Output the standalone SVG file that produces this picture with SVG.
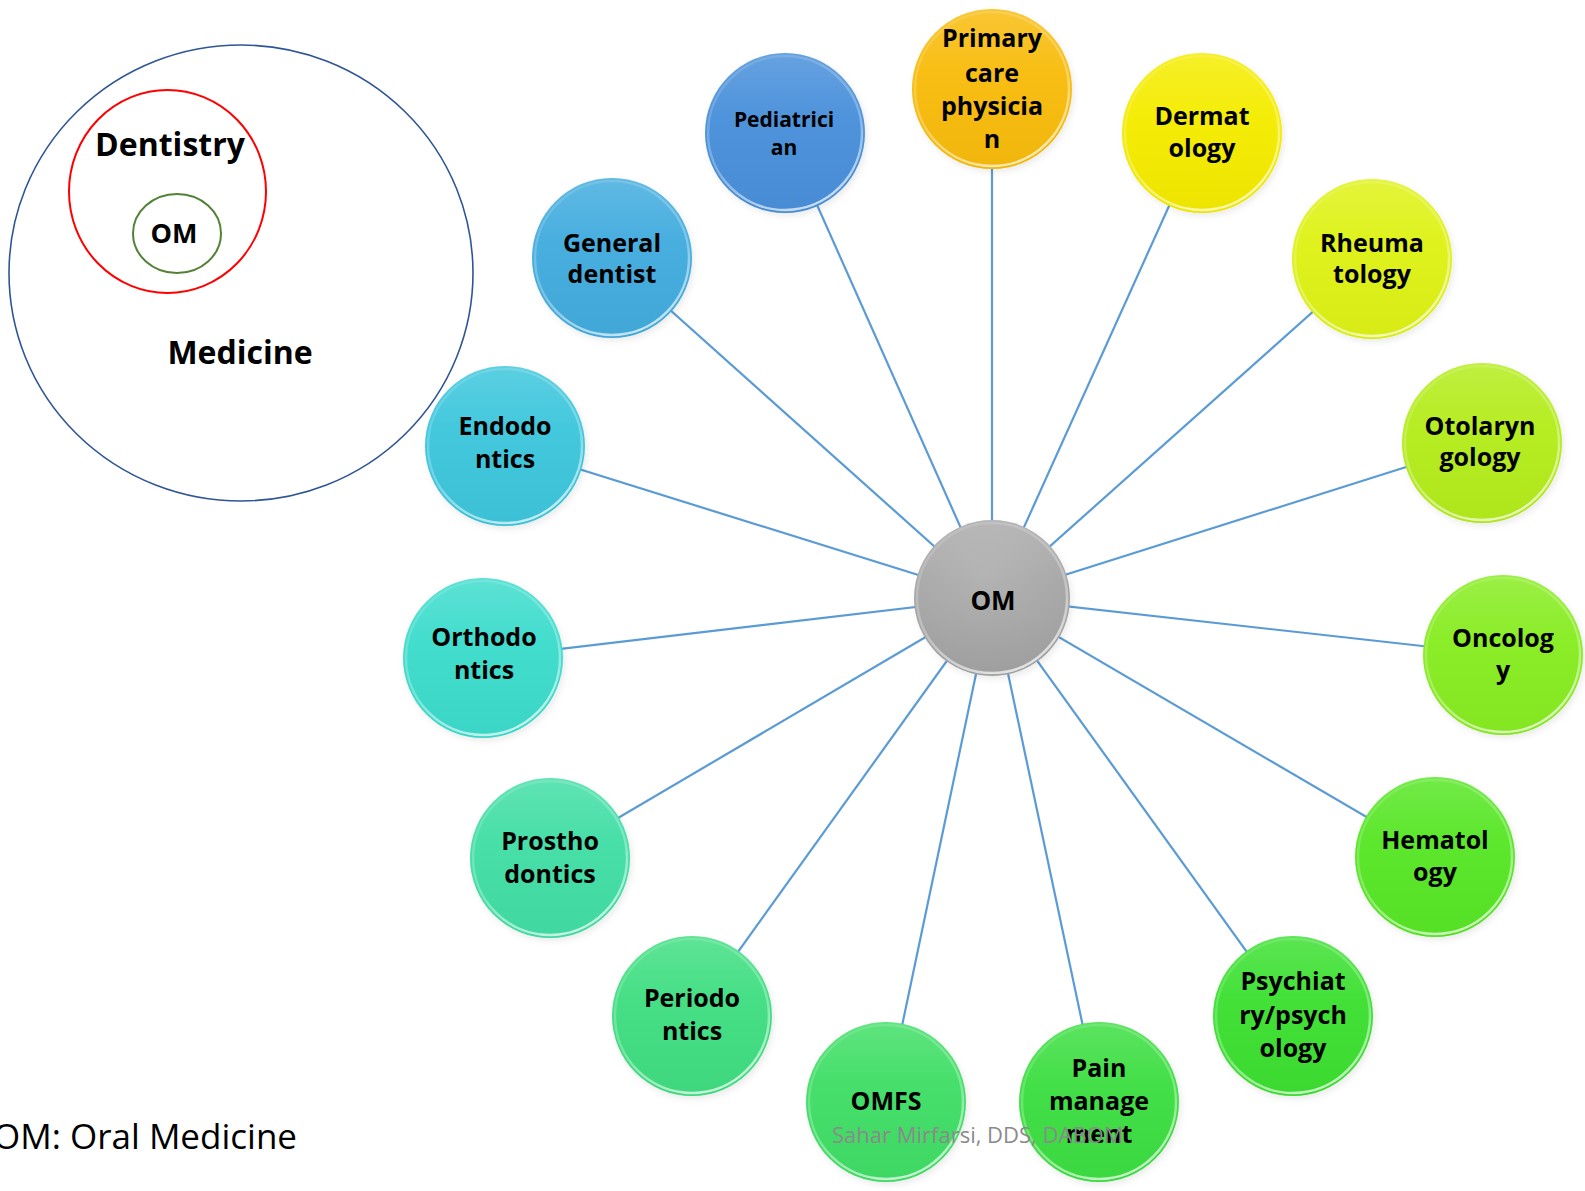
<svg xmlns="http://www.w3.org/2000/svg" width="1585" height="1191" viewBox="0 0 1585 1191">
<style>
.t{font-family:"Open Sans","Liberation Sans",sans-serif;font-weight:bold;font-size:25px;text-anchor:middle;fill:#000}
.ts{font-size:21px}
.big{font-family:"Open Sans","Liberation Sans",sans-serif;font-weight:bold;font-size:32px;fill:#000}
.conn line{stroke:#5b9bd5;stroke-width:2.2}
.gl{fill:url(#gloss)}
.rim{fill:none;stroke:url(#rimg);stroke-width:2.5}
.bub{filter:url(#sh)}
</style>
<defs>
<linearGradient id="gloss" x1="0" y1="0" x2="0" y2="1">
<stop offset="0" stop-color="#fff" stop-opacity="0.16"/>
<stop offset="0.4" stop-color="#fff" stop-opacity="0.03"/>
<stop offset="1" stop-color="#000" stop-opacity="0.03"/>
</linearGradient>
<linearGradient id="rimg" x1="0.2" y1="0" x2="0.6" y2="1">
<stop offset="0" stop-color="#fff" stop-opacity="0.1"/>
<stop offset="0.6" stop-color="#fff" stop-opacity="0.3"/>
<stop offset="1" stop-color="#fff" stop-opacity="0.7"/>
</linearGradient>
<radialGradient id="omg" cx="0.45" cy="0.35" r="0.7">
<stop offset="0" stop-color="#b0b0b0"/>
<stop offset="1" stop-color="#a2a2a2"/>
</radialGradient>
<filter id="sh" x="-20%" y="-20%" width="140%" height="140%">
<feGaussianBlur in="SourceAlpha" stdDeviation="3"/>
<feOffset dx="2" dy="3" result="b"/>
<feFlood flood-color="#000" flood-opacity="0.08"/>
<feComposite in2="b" operator="in"/>
<feMerge><feMergeNode/><feMergeNode in="SourceGraphic"/></feMerge>
</filter>
</defs>
<rect width="1585" height="1191" fill="#fff"/>

<g id="venn">
<ellipse cx="241" cy="273" rx="232" ry="228" fill="none" stroke="#2f5597" stroke-width="1.6"/>
<ellipse cx="167.5" cy="191.5" rx="98.5" ry="101.5" fill="none" stroke="#ff0000" stroke-width="2"/>
<ellipse cx="177" cy="233.5" rx="44" ry="39.5" fill="none" stroke="#548235" stroke-width="2"/>
<text class="big" x="170" y="156" text-anchor="middle">Dentistry</text>
<text class="big" x="174" y="243" text-anchor="middle" style="font-size:27px">OM</text>
<text class="big" x="240" y="364" text-anchor="middle">Medicine</text>
</g>

<g id="connectors" class="conn">
<line x1="992" y1="598" x2="992" y2="89"/>
<line x1="992" y1="598" x2="1202" y2="133"/>
<line x1="992" y1="598" x2="1372" y2="259"/>
<line x1="992" y1="598" x2="1482" y2="443"/>
<line x1="992" y1="598" x2="1503" y2="655"/>
<line x1="992" y1="598" x2="1435" y2="857"/>
<line x1="992" y1="598" x2="1293" y2="1016"/>
<line x1="992" y1="598" x2="1099" y2="1102"/>
<line x1="992" y1="598" x2="886" y2="1102"/>
<line x1="992" y1="598" x2="692" y2="1016"/>
<line x1="992" y1="598" x2="550" y2="858"/>
<line x1="992" y1="598" x2="483" y2="658"/>
<line x1="992" y1="598" x2="505" y2="446"/>
<line x1="992" y1="598" x2="612" y2="258"/>
<line x1="992" y1="598" x2="785" y2="133"/>
</g>

<g id="n-primary"><circle class="bub" cx="992" cy="89" r="80" fill="#f8bc08"/><circle class="gl" cx="992" cy="89" r="80"/><circle class="rim" cx="992" cy="89" r="77"/>
<text class="t" x="992" y="47">Primary</text><text class="t" x="992" y="82">care</text><text class="t" x="992" y="115">physicia</text><text class="t" x="992" y="148">n</text></g>

<g id="n-derm"><circle class="bub" cx="1202" cy="133" r="80" fill="#f4ec06"/><circle class="gl" cx="1202" cy="133" r="80"/><circle class="rim" cx="1202" cy="133" r="77"/>
<text class="t" x="1202" y="125">Dermat</text><text class="t" x="1202" y="157">ology</text></g>

<g id="n-rheum"><circle class="bub" cx="1372" cy="259" r="80" fill="#def212"/><circle class="gl" cx="1372" cy="259" r="80"/><circle class="rim" cx="1372" cy="259" r="77"/>
<text class="t" x="1372" y="252">Rheuma</text><text class="t" x="1372" y="283">tology</text></g>

<g id="n-otol"><circle class="bub" cx="1482" cy="443" r="80" fill="#b4ec1c"/><circle class="gl" cx="1482" cy="443" r="80"/><circle class="rim" cx="1482" cy="443" r="77"/>
<text class="t" x="1480" y="435">Otolaryn</text><text class="t" x="1480" y="466">gology</text></g>

<g id="n-onc"><circle class="bub" cx="1503" cy="655" r="80" fill="#88ec22"/><circle class="gl" cx="1503" cy="655" r="80"/><circle class="rim" cx="1503" cy="655" r="77"/>
<text class="t" x="1503" y="647">Oncolog</text><text class="t" x="1503" y="679">y</text></g>

<g id="n-hemat"><circle class="bub" cx="1435" cy="857" r="80" fill="#58e626"/><circle class="gl" cx="1435" cy="857" r="80"/><circle class="rim" cx="1435" cy="857" r="77"/>
<text class="t" x="1435" y="849">Hematol</text><text class="t" x="1435" y="881">ogy</text></g>

<g id="n-psych"><circle class="bub" cx="1293" cy="1016" r="80" fill="#3ee032"/><circle class="gl" cx="1293" cy="1016" r="80"/><circle class="rim" cx="1293" cy="1016" r="77"/>
<text class="t" x="1293" y="990">Psychiat</text><text class="t" x="1293" y="1024">ry/psych</text><text class="t" x="1293" y="1057">ology</text></g>

<g id="n-pain"><circle class="bub" cx="1099" cy="1102" r="80" fill="#3ede42"/><circle class="gl" cx="1099" cy="1102" r="80"/><circle class="rim" cx="1099" cy="1102" r="77"/>
<text class="t" x="1099" y="1077">Pain</text><text class="t" x="1099" y="1110">manage</text><text class="t" x="1099" y="1143">ment</text></g>

<g id="n-omfs"><circle class="bub" cx="886" cy="1102" r="80" fill="#40de66"/><circle class="gl" cx="886" cy="1102" r="80"/><circle class="rim" cx="886" cy="1102" r="77"/>
<text class="t" x="886" y="1110">OMFS</text></g>

<g id="n-perio"><circle class="bub" cx="692" cy="1016" r="80" fill="#40de82"/><circle class="gl" cx="692" cy="1016" r="80"/><circle class="rim" cx="692" cy="1016" r="77"/>
<text class="t" x="692" y="1007">Periodo</text><text class="t" x="692" y="1040">ntics</text></g>

<g id="n-prosth"><circle class="bub" cx="550" cy="858" r="80" fill="#42dea6"/><circle class="gl" cx="550" cy="858" r="80"/><circle class="rim" cx="550" cy="858" r="77"/>
<text class="t" x="550" y="850">Prostho</text><text class="t" x="550" y="883">dontics</text></g>

<g id="n-ortho"><circle class="bub" cx="483" cy="658" r="80" fill="#3ededa" style="fill:#3edccc"/><circle class="gl" cx="483" cy="658" r="80"/><circle class="rim" cx="483" cy="658" r="77"/>
<text class="t" x="484" y="646">Orthodo</text><text class="t" x="484" y="679">ntics</text></g>

<g id="n-endo"><circle class="bub" cx="505" cy="446" r="80" fill="#3ec6dc"/><circle class="gl" cx="505" cy="446" r="80"/><circle class="rim" cx="505" cy="446" r="77"/>
<text class="t" x="505" y="435">Endodo</text><text class="t" x="505" y="468">ntics</text></g>

<g id="n-general"><circle class="bub" cx="612" cy="258" r="80" fill="#42acde"/><circle class="gl" cx="612" cy="258" r="80"/><circle class="rim" cx="612" cy="258" r="77"/>
<text class="t" x="612" y="252">General</text><text class="t" x="612" y="283">dentist</text></g>

<g id="n-pediatric"><circle class="bub" cx="785" cy="133" r="80" fill="#4a90da"/><circle class="gl" cx="785" cy="133" r="80"/><circle class="rim" cx="785" cy="133" r="77"/>
<text class="t ts" x="784" y="127">Pediatrici</text><text class="t ts" x="784" y="155">an</text></g>

<g id="n-om"><circle class="bub" cx="992" cy="598" r="78" fill="url(#omg)"/><circle class="gl" cx="992" cy="598" r="78"/><circle class="rim" cx="992" cy="598" r="75"/>
<text class="t" x="993" y="610" style="font-size:26px">OM</text></g>

<text x="297" y="1149" text-anchor="end" font-family="'Open Sans','Liberation Sans',sans-serif" font-size="35" fill="#000">OM: Oral Medicine</text>
<text x="832" y="1143" font-family="'Open Sans','Liberation Sans',sans-serif" font-size="22" fill="#8a8a8a">Sahar Mirfarsi, DDS, DABOM</text>
</svg>
